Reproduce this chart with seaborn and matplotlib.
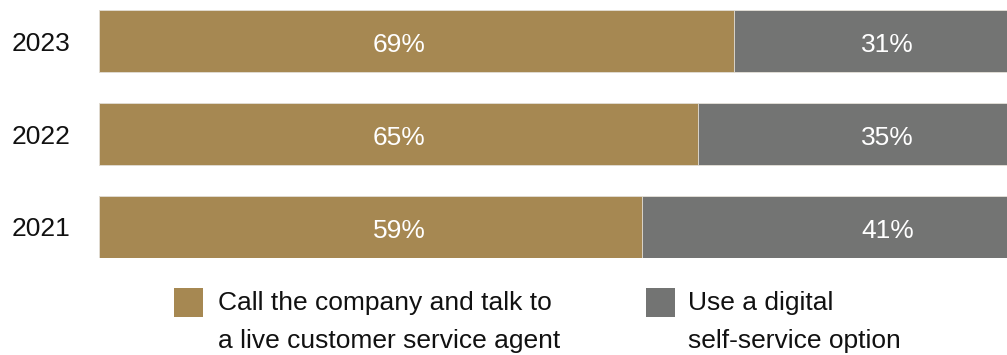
import matplotlib
matplotlib.use("Agg")
import matplotlib.pyplot as plt
from matplotlib.patches import Rectangle
import seaborn as sns
import pandas as pd

# Survey answers by year (percent of respondents)
years = ["2023", "2022", "2021"]
live_agent = [69, 65, 59]
self_service = [31, 35, 41]
legend_labels = [
    ["Call the company and talk to", "a live customer service agent"],
    ["Use a digital", "self-service option"],
]

GOLD = "#A68852"
GRAY = "#737473"
FS = 19

sns.set_theme(style="white")
plt.rcParams["font.family"] = ["Liberation Sans", "DejaVu Sans"]

W, H = 1007, 355
fig = plt.figure(figsize=(W / 100, H / 100), dpi=100)
ax = fig.add_axes([99 / W, (H - 258) / H, (W - 99) / W, 248 / H])

df = pd.DataFrame({"year": years, "live": live_agent, "self": self_service})
df["total"] = df["live"] + df["self"]

bar_w = 0.667
sns.barplot(data=df, y="year", x="total", color=GRAY, saturation=1,
            width=bar_w, orient="h", ax=ax, edgecolor="#e6e2da", linewidth=0.6)
sns.barplot(data=df, y="year", x="live", color=GOLD, saturation=1,
            width=bar_w, orient="h", ax=ax, edgecolor="#e6e2da", linewidth=0.6)

ax.set_xlim(0, 908 / 921 * 100)
ax.set_ylim(2.3335, -0.3335)
ax.set_xlabel("")
ax.set_ylabel("")
ax.set_xticks([])
for s in ax.spines.values():
    s.set_visible(False)
ax.tick_params(axis="y", length=0, pad=20.5, labelsize=FS, labelcolor="#111111")

# value labels
for i, (a, b) in enumerate(zip(live_agent, self_service)):
    ax.text(32.6, i + 0.115, f"{a}%", color="white", fontsize=FS,
            ha="center", va="baseline")
    ax.text(85.6, i + 0.115, f"{b}%", color="white", fontsize=FS,
            ha="center", va="baseline")

# legend
for (sx, tx), color, lines in zip([(174, 218), (646, 688)], [GOLD, GRAY], legend_labels):
    fig.add_artist(Rectangle((sx / W, (H - 317) / H), 29 / W, 29 / H,
                             transform=fig.transFigure, color=color, lw=0))
    for j, line in enumerate(lines):
        fig.text(tx / W, (H - (310 + 38 * j)) / H, line, fontsize=FS,
                 color="#111111", ha="left", va="baseline")

fig.savefig("out.png", dpi=100)
